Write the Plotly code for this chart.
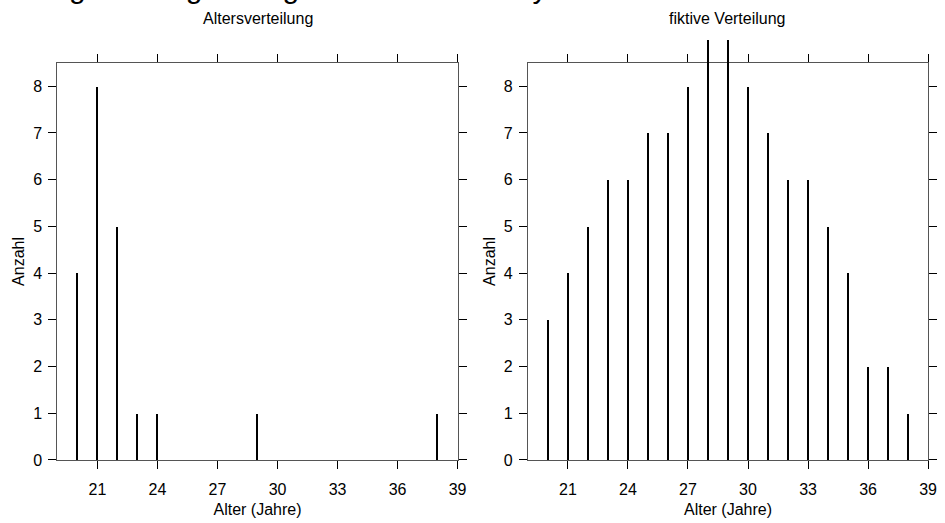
import plotly.graph_objects as go

# ---- data ----
ages_real = [20, 21, 22, 23, 24, 29, 38]
counts_real = [4, 8, 5, 1, 1, 1, 1]

ages_fict = list(range(20, 39))
counts_fict = [3, 4, 5, 6, 6, 7, 7, 8, 9, 9, 8, 7, 6, 6, 5, 4, 2, 2, 1]

x_ticks = [21, 24, 27, 30, 33, 36, 39]
y_ticks = [0, 1, 2, 3, 4, 5, 6, 7, 8]

panel_titles = ["Altersverteilung", "fiktive Verteilung"]
x_title = "Alter (Jahre)"
y_title = "Anzahl"
main_title = "Vergleich Ergebnis gemessen – Survey"

# ---- layout constants ----
W, H = 945, 523
FONT = "Liberation Sans, Arial, sans-serif"
FS = 16
X_RANGE = [19, 39]
Y_RANGE = [0, 8.5]
PLOT_BOTTOM, PLOT_TOP, EXT_TOP = 468, 64, 20
y_dom = [(H - PLOT_BOTTOM) / H, (H - PLOT_TOP) / H]
y_dom_ext = [(H - PLOT_BOTTOM) / H, (H - EXT_TOP) / H]
y_range_ext = [0, Y_RANGE[1] * (PLOT_BOTTOM - EXT_TOP) / (PLOT_BOTTOM - PLOT_TOP)]
x_doms = [[58 / W, 462 / W], [533 / W, 937 / W]]

fig = go.Figure()

axfont = dict(family=FONT, size=FS, color="black")
for i, (xs, ys) in enumerate([(ages_real, counts_real), (ages_fict, counts_fict)]):
    n = "" if i == 0 else "2"
    m = str(3 + i)  # overlay axes for unclipped bars
    axcommon = dict(
        showline=True, linecolor="#555555", linewidth=1,
        mirror="ticks", ticks="outside", ticklen=8, tickwidth=1,
        tickcolor="black", showgrid=False, tickfont=axfont,
    )
    fig.layout["xaxis" + n] = dict(
        domain=x_doms[i], range=X_RANGE, tickvals=x_ticks,
        anchor="y" + n, zeroline=False, ticklabelstandoff=7,
        title=dict(text=x_title, font=axfont, standoff=6),
        **axcommon,
    )
    fig.layout["yaxis" + n] = dict(
        domain=y_dom, range=Y_RANGE, tickvals=y_ticks,
        anchor="x" + n, zeroline=True, zerolinecolor="black", zerolinewidth=1,
        ticklabelstandoff=3,
        title=dict(text=y_title, font=axfont, standoff=4),
        **axcommon,
    )
    fig.layout["xaxis" + m] = dict(
        domain=x_doms[i], range=X_RANGE, anchor="y" + m, visible=False,
        showgrid=False, zeroline=False,
    )
    fig.layout["yaxis" + m] = dict(
        domain=y_dom_ext, range=y_range_ext, anchor="x" + m, visible=False,
        showgrid=False, zeroline=False,
    )
    # invisible trace so that the framed axes are drawn
    fig.add_trace(go.Scatter(
        x=xs, y=ys, mode="markers", marker=dict(opacity=0),
        showlegend=False, hoverinfo="skip", xaxis="x" + n, yaxis="y" + n,
    ))
    fig.add_trace(go.Bar(
        x=xs, y=ys, width=0.1,
        marker=dict(color="black", line=dict(width=0)),
        showlegend=False, xaxis="x" + m, yaxis="y" + m,
        hoverinfo="x+y",
    ))
    fig.add_annotation(
        text=panel_titles[i], xref="paper", yref="paper",
        x=(x_doms[i][0] + x_doms[i][1]) / 2, y=1 - 19 / H,
        xanchor="center", yanchor="middle", showarrow=False,
        font=axfont,
    )

fig.add_annotation(
    text=main_title, xref="paper", yref="paper", x=22 / W, y=1 - 6 / H,
    xanchor="left", yanchor="bottom", showarrow=False,
    font=dict(family=FONT, size=30, color="black"),
)

fig.update_layout(
    width=W, height=H, margin=dict(l=0, r=0, t=0, b=0),
    plot_bgcolor="rgba(0,0,0,0)", paper_bgcolor="white",
    bargap=0,
)

fig.write_html("out.html")
